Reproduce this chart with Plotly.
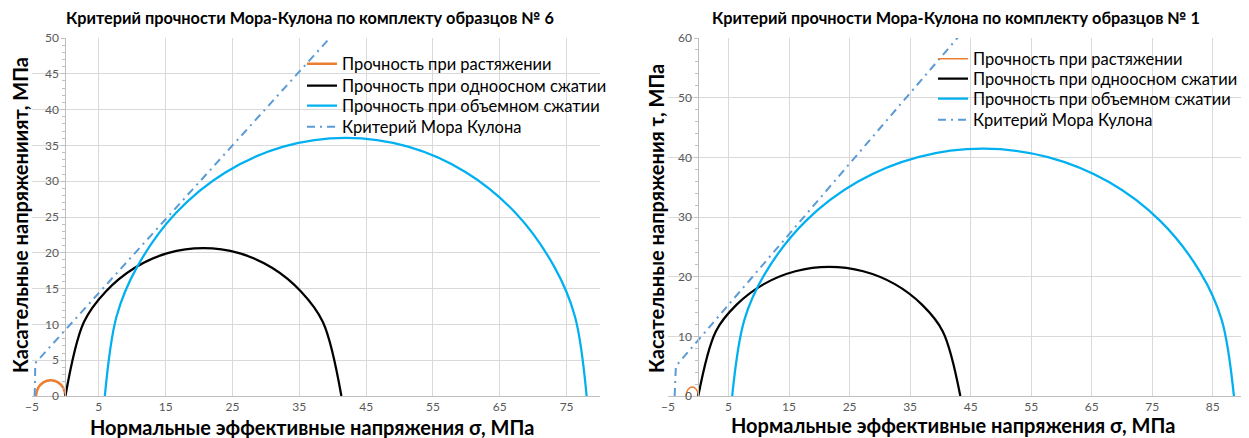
import plotly.graph_objects as go

W, H = 1249, 438

# ---------------- Left chart: sample set No 6 ----------------
L_tension_x = [-4.4, -4.1, -3.3, -2.2, -1.1, -0.3, 0.0]
L_tension_y = [0.0, 1.1, 1.9, 2.2, 1.9, 1.1, 0.0]

L_uniax_x = [0.0, 2.77, 6.05, 10.33, 15.31, 20.65, 25.99, 30.98, 35.25, 38.53, 41.3]
L_uniax_y = [0.0, 10.33, 14.6, 17.88, 19.95, 20.65, 19.95, 17.88, 14.6, 10.33, 0.0]

L_triax_x = [5.9, 7.66, 10.73, 16.46, 23.93, 32.62, 41.95, 51.28, 59.98, 67.44, 73.17, 76.24, 78.0]
L_triax_y = [0.0, 11.14, 18.03, 25.49, 31.22, 34.82, 36.05, 34.82, 31.22, 25.49, 18.03, 11.14, 0.0]

L_mc_x = [-4.6, -4.5, 45.0]
L_mc_y = [0.0, 4.6, 55.6]

# ---------------- Right chart: sample set No 1 ----------------
R_tension_x = [-2.0, -1.87, -1.5, -1.0, -0.5, -0.13, 0.0]
R_tension_y = [0.0, 0.75, 1.3, 1.5, 1.3, 0.75, 0.0]

R_uniax_x = [0.0, 2.9, 6.34, 10.83, 16.05, 21.65, 27.25, 32.48, 36.96, 40.4, 43.3]
R_uniax_y = [0.0, 10.83, 15.31, 18.75, 20.91, 21.65, 20.91, 18.75, 15.31, 10.83, 0.0]

R_triax_x = [5.6, 7.63, 11.15, 17.74, 26.33, 36.32, 47.05, 57.78, 67.78, 76.36, 82.95, 86.47, 88.5]
R_triax_y = [0.0, 12.81, 20.73, 29.31, 35.9, 40.04, 41.45, 40.04, 35.9, 29.31, 20.73, 12.81, 0.0]

R_mc_x = [-3.9, -3.7, 50.0]
R_mc_y = [0.0, 5.0, 68.5]

names = ["Прочность при растяжении", "Прочность при одноосном сжатии",
         "Прочность при объемном сжатии", "Критерий Мора Кулона"]
titles = ["Критерий прочности Мора-Кулона по комплекту образцов № 6",
          "Критерий прочности Мора-Кулона по комплекту образцов № 1"]
xtitle = "Нормальные эффективные напряжения σ, МПа"
ytitles = ["Касательные напряжениият, МПа", "Касательные напряжения τ, МПа"]

FONT = "Lato, 'Noto Sans', sans-serif"
ORANGE = "#ED7D31"
BLUE = "#00B0F0"
MC = "#5B9BD5"
DASH = "8px,5px,2px,5px"

fig = go.Figure()


def add_set(tx, ty, ux, uy, bx, by, mx, my, xa, ya, legs, ow):
    fig.add_trace(go.Scatter(x=tx, y=ty, mode="lines", name=names[0], xaxis=xa, yaxis=ya, legend=legs[0],
                             line=dict(color=ORANGE, width=ow, shape="spline")))
    fig.add_trace(go.Scatter(x=ux, y=uy, mode="lines", name=names[1], xaxis=xa, yaxis=ya, legend=legs[1],
                             line=dict(color="#000000", width=2.25, shape="spline")))
    fig.add_trace(go.Scatter(x=bx, y=by, mode="lines", name=names[2], xaxis=xa, yaxis=ya, legend=legs[2],
                             line=dict(color=BLUE, width=2.25, shape="spline")))
    fig.add_trace(go.Scatter(x=mx, y=my, mode="lines", name=names[3], xaxis=xa, yaxis=ya, legend=legs[3],
                             line=dict(color=MC, width=2, dash=DASH)))


L_legs = ["legend", "legend2", "legend3", "legend4"]
R_legs = ["legend5", "legend6", "legend7", "legend8"]
add_set(L_tension_x, L_tension_y, L_uniax_x, L_uniax_y, L_triax_x, L_triax_y, L_mc_x, L_mc_y,
        "x", "y", L_legs, 2.5)
add_set(R_tension_x, R_tension_y, R_uniax_x, R_uniax_y, R_triax_x, R_triax_y, R_mc_x, R_mc_y,
        "x2", "y2", R_legs, 1.5)

# pixel geometry (screen pixels; the page body adds an 8px offset)
OFF = 8
L_left, L_right = 32, 600
R_left, R_right = 668, 1243
top, bottom = 38, 396
xr_L = [-5, 80]
xr_R = [-5, 90]


def px(v):
    return (v - OFF) / W


def py(v):
    return 1 - (v - OFF) / H


ydom = [py(bottom), py(top)]
L_dom = [px(L_left), px(L_right)]
R_dom = [px(R_left), px(R_right)]
L_y0 = L_dom[0] + (0 - xr_L[0]) / (xr_L[1] - xr_L[0]) * (L_dom[1] - L_dom[0])
R_y0 = R_dom[0] + (0 - xr_R[0]) / (xr_R[1] - xr_R[0]) * (R_dom[1] - R_dom[0])

tickfont = dict(family=FONT, size=12, color="#595959")
GRID = "#D9D9D9"
AXL = "#BFBFBF"


def xaxis(dom, rng, anchor):
    return dict(domain=dom, range=rng, tickmode="linear", tick0=-5, dtick=10, showgrid=True,
                gridcolor=GRID, gridwidth=1, zeroline=False, showline=True, linecolor=AXL,
                linewidth=1, ticks="", tickfont=tickfont, anchor=anchor, fixedrange=True,
                automargin=False)


def yaxis(rng, dt, mdt, pos):
    return dict(domain=ydom, range=rng, tickmode="linear", tick0=0, dtick=dt, showgrid=True,
                gridcolor=GRID, gridwidth=1, zeroline=False, showline=True, linecolor=AXL,
                linewidth=1, ticks="outside", ticklen=4, tickcolor=AXL, tickfont=tickfont,
                anchor="free", position=pos, automargin=False,
                minor=dict(dtick=mdt, ticks="outside", ticklen=3, tickcolor=AXL, showgrid=False),
                fixedrange=True)


legfont = dict(family=FONT, size=16.5, color="#000000")

layout = dict(
    width=W, height=H, margin=dict(l=0, r=0, t=0, b=0, autoexpand=False),
    paper_bgcolor="white", plot_bgcolor="white", showlegend=True,
    xaxis=xaxis(L_dom, xr_L, "y"),
    yaxis=yaxis([0, 50], 5, 1, L_y0),
    xaxis2=xaxis(R_dom, xr_R, "y2"),
    yaxis2=yaxis([0, 60], 10, 2, R_y0),
)

L_rows = [64, 86, 106, 127]
R_rows = [59, 79, 99, 120]
for lg, row in zip(L_legs, L_rows):
    layout[lg] = dict(x=px(302), y=py(row), xanchor="left", yanchor="middle",
                      xref="container", yref="container", bgcolor="rgba(0,0,0,0)",
                      font=legfont, borderwidth=0, visible=True)
for lg, row in zip(R_legs, R_rows):
    layout[lg] = dict(x=px(933), y=py(row), xanchor="left", yanchor="middle",
                      xref="container", yref="container", bgcolor="rgba(0,0,0,0)",
                      font=legfont, borderwidth=0, visible=True)
fig.update_layout(**layout)

ann = []


def note(text, x, y, size, angle=0):
    ann.append(dict(text="<b>" + text + "</b>", x=px(x), y=py(y), xref="paper", yref="paper",
                    showarrow=False, textangle=angle,
                    font=dict(family=FONT, size=size, color="#000"),
                    xanchor="center", yanchor="middle"))


note(titles[0], 310, 18, 16.3)
note(titles[1], 956, 18, 16.3)
note(xtitle, 312, 427, 20)
note(xtitle, 953, 425, 20)
note(ytitles[0], 20, 215, 20, -90)
note(ytitles[1], 656, 218, 20, -90)
fig.update_layout(annotations=ann)

fig.write_html("out.html")
